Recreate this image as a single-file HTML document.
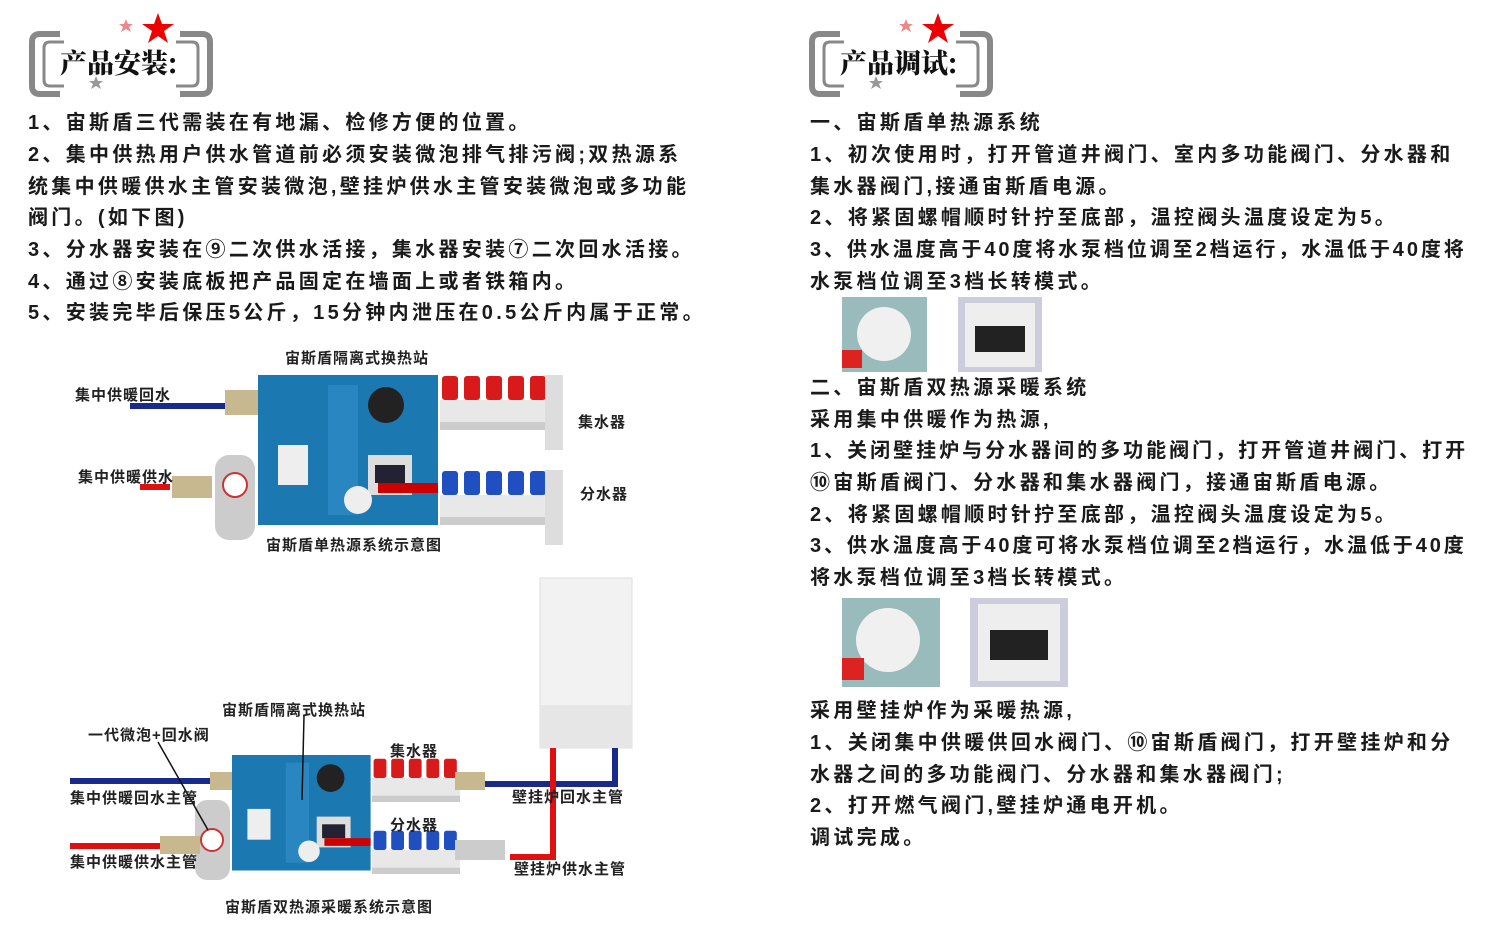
<!DOCTYPE html>
<html><head><meta charset="utf-8"><style>
body{margin:0;width:1500px;height:944px;background:#fff;position:relative;overflow:hidden;font-family:"Liberation Sans","Noto Sans CJK SC","WenQuanYi Zen Hei",sans-serif;}
.t{position:absolute;font-size:20px;font-weight:bold;letter-spacing:3.3px;white-space:nowrap;color:#1a1a1a;line-height:24px;}
.l{position:absolute;font-size:15px;font-weight:bold;white-space:nowrap;color:#222;letter-spacing:1px;}
.h{position:absolute;font-family:"Noto Serif CJK SC",serif;font-weight:900;font-size:27px;color:#111;}
svg{position:absolute;left:0;top:0}
</style></head><body>
<svg width="1500" height="944">
 <defs>
  <g id="badge">
   <path d="M60,34 H40 Q32,34 32,42 V86 Q32,94 40,94 H60" fill="none" stroke="#888" stroke-width="6"/>
   <path d="M64,42 H50 Q44,42 44,48 V80 Q44,86 50,86 H64" fill="none" stroke="#888" stroke-width="3"/>
   <path d="M180,34 H202 Q210,34 210,42 V86 Q210,94 202,94 H180" fill="none" stroke="#888" stroke-width="6"/>
   <path d="M176,42 H192 Q198,42 198,48 V80 Q198,86 192,86 H176" fill="none" stroke="#888" stroke-width="3"/>
   <polygon points="126,19 128,24 133,24 129,27 131,32 126,29 121,32 123,27 119,24 124,24" fill="#e88"/>
   <polygon points="158,13 162,24 174,24 164,31 168,43 158,36 148,43 152,31 142,24 154,24" fill="#e00"/>
   <polygon points="96,76 98,81 103,81 99,84 101,89 96,86 91,89 93,84 89,81 94,81" fill="#999"/>
  </g>
  <g id="panel">
   <rect width="180" height="150" fill="#1c78b0"/>
   <rect x="70" y="10" width="30" height="130" fill="#2a86c0"/>
   <rect x="20" y="70" width="30" height="40" fill="#eee"/>
   <rect x="110" y="80" width="44" height="40" fill="#ddd"/>
   <rect x="117" y="90" width="30" height="18" fill="#223"/>
   <circle cx="128" cy="30" r="18" fill="#222"/>
   <circle cx="100" cy="125" r="14" fill="#eee"/>
   <rect x="120" y="108" width="60" height="10" fill="#c00"/>
  </g>
  <g id="mani">
   <rect x="0" y="0" width="110" height="22" fill="#e8e8e8"/>
   <rect x="2" y="-24" width="16" height="24" rx="3" fill="#d91a1a"/><rect x="24" y="-24" width="16" height="24" rx="3" fill="#d91a1a"/><rect x="46" y="-24" width="16" height="24" rx="3" fill="#d91a1a"/><rect x="68" y="-24" width="16" height="24" rx="3" fill="#d91a1a"/><rect x="90" y="-24" width="16" height="24" rx="3" fill="#d91a1a"/>
   <rect x="0" y="22" width="110" height="8" fill="#ccc"/>
  </g>
  <g id="maniB">
   <rect x="0" y="0" width="110" height="22" fill="#e8e8e8"/>
   <rect x="2" y="-24" width="16" height="24" rx="3" fill="#1f4fc0"/><rect x="24" y="-24" width="16" height="24" rx="3" fill="#1f4fc0"/><rect x="46" y="-24" width="16" height="24" rx="3" fill="#1f4fc0"/><rect x="68" y="-24" width="16" height="24" rx="3" fill="#1f4fc0"/><rect x="90" y="-24" width="16" height="24" rx="3" fill="#1f4fc0"/>
   <rect x="0" y="22" width="110" height="8" fill="#ccc"/>
  </g>
 </defs>
 <use href="#badge"/>
 <use href="#badge" transform="translate(780,0)"/>

 <rect x="130" y="403" width="120" height="6" fill="#1a2a8a"/>
 <rect x="140" y="484" width="30" height="6" fill="#e01010"/>
 <rect x="225" y="390" width="35" height="25" fill="#c8b890"/>
 <rect x="172" y="476" width="40" height="22" fill="#c8b890"/>
 <rect x="215" y="455" width="40" height="85" rx="14" fill="#ccc"/>
 <circle cx="235" cy="485" r="12" fill="#fff" stroke="#c33" stroke-width="2"/>
 <use href="#panel" transform="translate(258,375)"/>
 <use href="#mani" transform="translate(440,400)"/>
 <use href="#maniB" transform="translate(440,495)"/>
 <rect x="545" y="375" width="18" height="75" fill="#ddd"/>
 <rect x="545" y="470" width="18" height="75" fill="#ddd"/>

 <rect x="540" y="578" width="92" height="170" fill="#f2f2f2" stroke="#ddd"/>
 <rect x="540" y="705" width="92" height="43" fill="#e6e6e6"/>
 <rect x="70" y="778" width="160" height="6" fill="#1a2a8a"/>
 <rect x="70" y="843" width="100" height="6" fill="#e01010"/>
 <rect x="485" y="781" width="133" height="6" fill="#1a2a8a"/>
 <rect x="612" y="748" width="6" height="39" fill="#1a2a8a"/>
 <rect x="550" y="748" width="6" height="112" fill="#e01010"/>
 <rect x="510" y="854" width="46" height="6" fill="#e01010"/>
 <rect x="195" y="800" width="35" height="80" rx="12" fill="#ccc"/>
 <circle cx="212" cy="840" r="11" fill="#fff" stroke="#c33" stroke-width="2"/>
 <rect x="160" y="836" width="40" height="18" fill="#c8b890"/>
 <rect x="210" y="772" width="28" height="18" fill="#c8b890"/>
 <use href="#panel" transform="translate(232,755) scale(0.77,0.77)"/>
 <use href="#mani" transform="translate(372,778) scale(0.8)"/>
 <use href="#maniB" transform="translate(372,850) scale(0.8)"/>
 <rect x="455" y="772" width="30" height="18" fill="#c8b890"/>
 <rect x="455" y="840" width="50" height="20" fill="#ccc"/>
 <line x1="158" y1="742" x2="208" y2="830" stroke="#111" stroke-width="1.5"/>
 <line x1="304" y1="716" x2="302" y2="800" stroke="#111" stroke-width="1.5"/>

 <rect x="842" y="297" width="85" height="75" fill="#9bb"/><circle cx="884" cy="334" r="27" fill="#f0f0f0"/><rect x="842" y="350" width="20" height="18" fill="#d22"/>
 <rect x="958" y="297" width="84" height="75" fill="#ccd"/><rect x="965" y="303" width="70" height="64" fill="#eee"/><rect x="975" y="326" width="50" height="26" fill="#222"/>
 <rect x="842" y="598" width="98" height="89" fill="#9bb"/><circle cx="888" cy="640" r="32" fill="#f0f0f0"/><rect x="842" y="658" width="22" height="22" fill="#d22"/>
 <rect x="970" y="598" width="98" height="89" fill="#ccd"/><rect x="978" y="604" width="82" height="77" fill="#eee"/><rect x="990" y="630" width="58" height="30" fill="#222"/>
</svg>

<div class="h" style="left:60px;top:42px">产品安装:</div>
<div class="h" style="left:840px;top:42px">产品调试:</div>

<div class="t" style="left:28px;top:111px">1、宙斯盾三代需装在有地漏、检修方便的位置。</div>
<div class="t" style="left:28px;top:143px">2、集中供热用户供水管道前必须安装微泡排气排污阀;双热源系</div>
<div class="t" style="left:28px;top:175px">统集中供暖供水主管安装微泡,壁挂炉供水主管安装微泡或多功能</div>
<div class="t" style="left:28px;top:206px">阀门。(如下图)</div>
<div class="t" style="left:28px;top:238px">3、分水器安装在⑨二次供水活接，集水器安装⑦二次回水活接。</div>
<div class="t" style="left:28px;top:270px">4、通过⑧安装底板把产品固定在墙面上或者铁箱内。</div>
<div class="t" style="left:28px;top:301px">5、安装完毕后保压5公斤，15分钟内泄压在0.5公斤内属于正常。</div>

<div class="l" style="left:285px;top:347px">宙斯盾隔离式换热站</div>
<div class="l" style="left:75px;top:384px">集中供暖回水</div>
<div class="l" style="left:78px;top:466px">集中供暖供水</div>
<div class="l" style="left:578px;top:411px">集水器</div>
<div class="l" style="left:580px;top:483px">分水器</div>
<div class="l" style="left:266px;top:534px">宙斯盾单热源系统示意图</div>

<div class="l" style="left:222px;top:699px">宙斯盾隔离式换热站</div>
<div class="l" style="left:88px;top:724px">一代微泡+回水阀</div>
<div class="l" style="left:390px;top:740px">集水器</div>
<div class="l" style="left:390px;top:814px">分水器</div>
<div class="l" style="left:70px;top:787px">集中供暖回水主管</div>
<div class="l" style="left:70px;top:851px">集中供暖供水主管</div>
<div class="l" style="left:512px;top:786px">壁挂炉回水主管</div>
<div class="l" style="left:514px;top:858px">壁挂炉供水主管</div>
<div class="l" style="left:225px;top:896px">宙斯盾双热源采暖系统示意图</div>

<div class="t" style="left:810px;top:111px">一、宙斯盾单热源系统</div>
<div class="t" style="left:810px;top:143px">1、初次使用时，打开管道井阀门、室内多功能阀门、分水器和</div>
<div class="t" style="left:810px;top:175px">集水器阀门,接通宙斯盾电源。</div>
<div class="t" style="left:810px;top:206px">2、将紧固螺帽顺时针拧至底部，温控阀头温度设定为5。</div>
<div class="t" style="left:810px;top:238px;letter-spacing:2.9px">3、供水温度高于40度将水泵档位调至2档运行，水温低于40度将</div>
<div class="t" style="left:810px;top:270px">水泵档位调至3档长转模式。</div>
<div class="t" style="left:810px;top:376px">二、宙斯盾双热源采暖系统</div>
<div class="t" style="left:810px;top:408px">采用集中供暖作为热源,</div>
<div class="t" style="left:810px;top:439px;letter-spacing:3px">1、关闭壁挂炉与分水器间的多功能阀门，打开管道井阀门、打开</div>
<div class="t" style="left:810px;top:471px">⑩宙斯盾阀门、分水器和集水器阀门，接通宙斯盾电源。</div>
<div class="t" style="left:810px;top:503px">2、将紧固螺帽顺时针拧至底部，温控阀头温度设定为5。</div>
<div class="t" style="left:810px;top:534px;letter-spacing:2.9px">3、供水温度高于40度可将水泵档位调至2档运行，水温低于40度</div>
<div class="t" style="left:810px;top:566px">将水泵档位调至3档长转模式。</div>
<div class="t" style="left:810px;top:699px">采用壁挂炉作为采暖热源,</div>
<div class="t" style="left:810px;top:731px">1、关闭集中供暖供回水阀门、⑩宙斯盾阀门，打开壁挂炉和分</div>
<div class="t" style="left:810px;top:763px">水器之间的多功能阀门、分水器和集水器阀门;</div>
<div class="t" style="left:810px;top:794px">2、打开燃气阀门,壁挂炉通电开机。</div>
<div class="t" style="left:810px;top:826px">调试完成。</div>
</body></html>
